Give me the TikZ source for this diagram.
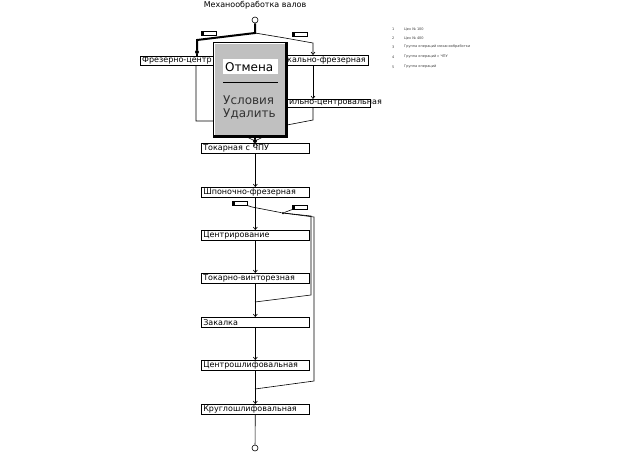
\documentclass[tikz,border=0pt]{standalone}
\usepackage{fontspec}
\setmainfont{DejaVu Sans}
\usetikzlibrary{arrows.meta}
\definecolor{popgray}{RGB}{192,192,192}
\begin{document}
\begin{tikzpicture}[x=1pt,y=-1pt,
  box/.style={draw,line width=0.6pt,anchor=north west,minimum height=10pt,inner xsep=2pt,inner ysep=0pt,text width=#1,align=left,font=\fontsize{8}{9}\selectfont},
  ebox/.style={draw,line width=0.6pt,anchor=north west,minimum height=#1,minimum width=110pt,inner sep=0pt},
  btext/.style={inner sep=0pt,font=\fontsize{8}{9}\selectfont},
  ln/.style={line width=0.6pt},
  arr/.style={ln,-{Straight Barb[length=2.5pt,width=4pt]}},
  heavy/.style={line width=2pt},
  cond/.style={draw,line width=0.6pt,fill=white,minimum width=15pt,minimum height=4pt,inner sep=0pt,anchor=north west,
    path picture={\fill[black] (path picture bounding box.north west) rectangle ([xshift=3pt]path picture bounding box.south west);}},
  dot/.style={circle,fill,inner sep=0pt,minimum size=4pt},
  term/.style={circle,draw,line width=0.6pt,inner sep=0pt,minimum size=6pt,fill=white},
  legend/.style={anchor=west,inner sep=0pt,font=\fontsize{3.5}{4}\selectfont,text=black!75},
  menu/.style={anchor=west,inner sep=0pt,font=\fontsize{12}{14}\selectfont}]
\useasboundingbox[fill=white] (0,0) rectangle (618,453);

% title and start
\node[font=\fontsize{8}{9}\selectfont,inner sep=0pt] (title) at (255,5) {Механообработка валов};
\node[term] (s) at (255,20) {};

% upper boxes (partly hidden by the popup menu)
\node[ebox=9pt] (fc) at (140,56) {};
\node[btext,anchor=west] (fct) at (142,60.5) {Фрезерно-центр};
\node[ebox=10pt] (vf) at (258,55) {};
\node[btext,anchor=east] (vft) at (366,60) {кально-фрезерная};
\node[ebox=8pt] (sc) at (260,99) {};
\node[btext,anchor=west] (sct) at (289,103) {ильно-центровальная};

% main column
\node[box=104pt] (tok) at (201,143) {\mbox{Токарная с ЧПУ}};
\node[box=104pt] (shp) at (201,187) {\mbox{Шпоночно-фрезерная}};
\node[box=104pt] (cen) at (201,230) {\mbox{Центрирование}};
\node[box=104pt] (tv)  at (201,273) {\mbox{Токарно-винторезная}};
\node[box=104pt] (zak) at (201,317) {\mbox{Закалка}};
\node[box=104pt] (csh) at (201,360) {\mbox{Центрошлифовальная}};
\node[box=104pt] (krg) at (201,404) {\mbox{Круглошлифовальная}};
\node[term] (e) at (255,448) {};

% condition flags
\node[cond] (c1) at (201,31) {};
\node[cond] (c2) at (292,32) {};
\node[cond] (c3) at (232,201) {};
\node[cond] (c4) at (292,205) {};

% split at start
\coordinate (j1) at (255,33);
\node[dot] (fd) at (197,52) {};
\draw[heavy] (s) -- (j1) -- (197,40) -- (fd);
\draw[heavy] (fd) -- (fd |- fc.north);
\coordinate (r1) at (313,43);
\draw[arr] (j1) -- (285,38) -- (r1) -- (r1 |- vf.north);
\draw[arr] (r1 |- vf.south) -- (r1 |- sc.north);
\node[dot] (m) at (255,141) {};
\coordinate (r2) at (313,120);
\draw[ln] (r1 |- sc.south) -- (r2) -- (287,125) -- (m);
\coordinate (l1) at (196,121);
\draw[ln] (l1 |- fc.south) -- (l1) -- (215,121) -- (m);
\draw[arr] (m) -- (tok.north);

% main flow
\draw[arr] (tok.south) -- (shp.north);
\draw[arr] (shp.south) -- (cen.north);
\draw[arr] (cen.south) -- (tv.north);
\draw[arr] (tv.south) -- (zak.north);
\draw[arr] (zak.south) -- (csh.north);
\draw[arr] (csh.south) -- (krg.north);
\draw[ln] (krg.south) -- (e);

% branch after Шпоночно-фрезерная
\node[dot,minimum size=2.5pt] (j2) at (283,213) {};
\draw[ln] (c3.south east) -- (252,207) -- (j2);
\draw[ln] (j2) -- (c4.south west);
\coordinate (b1) at (311,216);
\coordinate (b2) at (314,217);
\coordinate (k1) at (255,302);
\coordinate (k2) at (255,389);
\draw[ln] (j2) -- (b1) -- (311,295) -- (k1);
\draw[ln] (j2) -- (b2) -- (314,381) -- (k2);

% popup menu
\draw[heavy] (255,136) -- (m);
\node[draw,line width=0.6pt,fill=popgray,anchor=north west,minimum width=74pt,minimum height=95pt,inner sep=0pt] (pop) at (213,42) {};
\draw[white,line width=1pt] ([shift={(1.5pt,1.5pt)}]pop.south west) -- ([shift={(1.5pt,-1.5pt)}]pop.north west) -- ([shift={(-3pt,-1.5pt)}]pop.north east);
\draw[line width=2.5pt] ([shift={(-1.25pt,-0.3pt)}]pop.north east) -- ([shift={(-1.25pt,1.25pt)}]pop.south east) -- ([shift={(0.3pt,1.25pt)}]pop.south west);
\node[fill=white,anchor=north west,minimum width=55pt,minimum height=15pt,inner sep=0pt] (hl) at (223,59) {};
\node[menu] (cancel) at ([xshift=2pt]hl.west) {Отмена};
\draw[line width=0.8pt] (223,82) -- (278,82);
\node[menu,text=black!80] (cond) at (223,100) {Условия};
\node[menu,text=black!80] (del) at (223,114) {Удалить};

% legend
\node[legend] (n1) at (392,29) {1};
\node[legend] (t1) at (404,29) {Цех № 100};
\node[legend] (n2) at (392,38) {2};
\node[legend] (t2) at (404,38) {Цех № 400};
\node[legend] (n3) at (392,47) {3};
\node[legend] (t3) at (404,47) {Группа операций механообработки};
\node[legend] (n4) at (392,57) {4};
\node[legend] (t4) at (404,57) {Группа операций с ЧПУ};
\node[legend] (n5) at (392,67) {5};
\node[legend] (t5) at (404,67) {Группа операций};
\end{tikzpicture}
\end{document}
